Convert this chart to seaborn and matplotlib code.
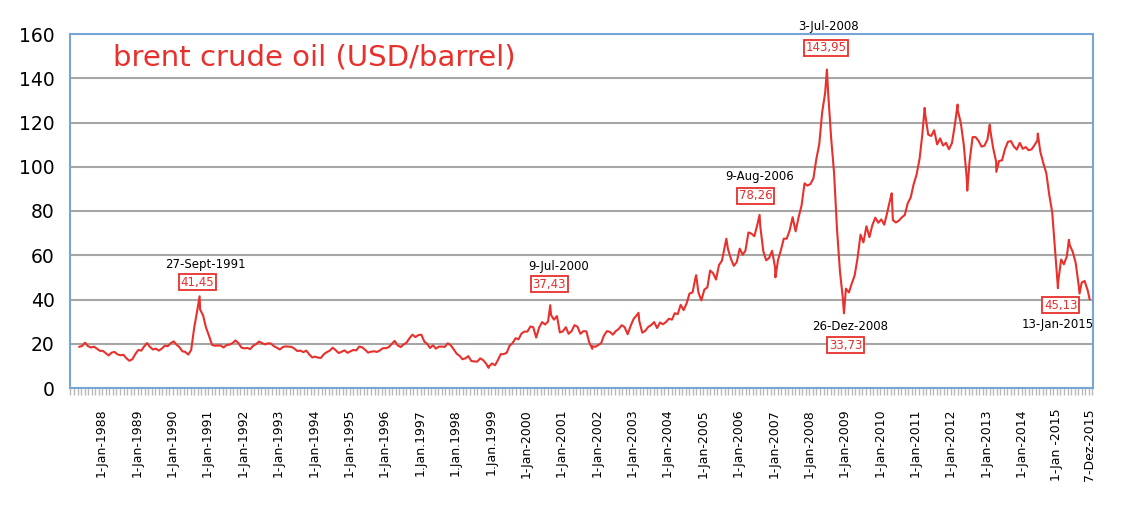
import pandas as pd
import numpy as np
import matplotlib
matplotlib.use("Agg")
import matplotlib.pyplot as plt
import matplotlib.dates as mdates
import seaborn as sns

# monthly brent prices (USD/barrel)
p1987 = [18.6, 19.0, 20.5, 18.9, 18.3, 18.7, 17.8, 16.8]  # May-Dec
p1988 = [16.8, 15.7, 14.7, 16.0, 16.3, 15.2, 14.8, 15.0, 13.4, 12.3, 13.0, 15.3]
p1989 = [17.2, 16.9, 18.7, 20.3, 18.6, 17.4, 17.8, 16.9, 17.8, 19.1, 18.9, 20.2]
p1990 = [21.1, 19.5, 18.5, 16.6, 16.3, 15.1, 17.2, 27.2, 34.9, 35.5, 32.8, 27.3]
p1991 = [23.6, 19.5, 19.1, 19.2, 19.2, 18.3, 19.4, 19.6, 20.3, 21.5, 20.3, 18.3]
p1992 = [17.9, 18.1, 17.6, 19.1, 19.8, 21.0, 20.3, 19.7, 20.2, 20.1, 18.9, 18.2]
p1993 = [17.4, 18.5, 18.8, 18.7, 18.6, 17.8, 16.7, 16.9, 16.2, 16.9, 15.2, 13.8]
p1994 = [14.2, 13.7, 13.6, 15.3, 16.2, 16.9, 18.2, 17.1, 15.8, 16.4, 17.0, 15.9]
p1995 = [16.6, 17.2, 17.0, 18.7, 18.4, 17.3, 16.0, 16.4, 16.6, 16.3, 17.0, 18.0]
p1996 = [18.0, 18.5, 19.9, 21.3, 19.3, 18.5, 19.6, 20.5, 22.5, 24.1, 23.0, 23.9]
p1997 = [24.1, 21.0, 20.0, 18.1, 19.3, 17.8, 18.7, 18.7, 18.6, 20.2, 19.3, 17.5]
p1998 = [15.5, 14.5, 13.0, 13.4, 14.4, 12.2, 12.0, 11.9, 13.4, 12.6, 11.0, 9.8]
p1999 = [11.1, 10.3, 12.5, 15.3, 15.3, 15.9, 19.1, 20.3, 22.5, 22.0, 24.6, 25.5]
p2000 = [25.5, 27.8, 27.5, 22.8, 27.3, 29.8, 28.7, 30.0, 33.0, 30.9, 32.5, 25.1]
p2001 = [25.6, 27.5, 24.5, 25.7, 28.4, 27.7, 24.5, 25.7, 25.6, 20.5, 18.9, 18.6]
p2002 = [19.4, 20.3, 23.7, 25.7, 25.4, 24.1, 25.7, 26.7, 28.4, 27.5, 24.3, 28.0]
p2003 = [31.2, 32.8, 30.3, 25.0, 25.8, 27.6, 28.4, 29.8, 27.1, 29.6, 28.8, 29.8]
p2004 = [31.3, 30.9, 33.8, 33.4, 37.6, 35.2, 38.2, 42.7, 43.2, 49.8, 43.1, 39.6]
p2005 = [44.5, 45.5, 53.1, 51.9, 49.0, 55.6, 57.5, 64.1, 62.9, 58.5, 55.2, 56.9]
p2006 = [63.0, 60.2, 62.1, 70.3, 69.8, 68.6, 73.7, 73.2, 61.9, 57.7, 58.8, 62.0]
p2007 = [54.5, 58.0, 62.1, 67.5, 67.5, 71.3, 77.2, 70.8, 77.2, 82.4, 92.5, 91.5]
p2008 = [92.2, 94.8, 103.3, 110.2, 124.6, 133.5, 133.9, 113.4, 97.1, 71.9, 52.5, 40.4]
p2009 = [44.9, 43.2, 47.0, 50.8, 58.6, 69.3, 65.8, 73.1, 68.2, 73.6, 77.0, 74.7]
p2010 = [76.2, 73.8, 78.8, 84.8, 75.9, 74.8, 75.6, 77.1, 78.2, 83.5, 86.1, 92.0]
p2011 = [96.5, 103.7, 114.6, 123.3, 114.5, 113.9, 116.5, 110.1, 112.8, 109.6, 110.8, 107.9]
p2012 = [110.7, 119.3, 125.5, 119.8, 110.3, 95.2, 102.6, 113.4, 113.4, 111.7, 109.1, 109.5]
p2013 = [112.3, 116.1, 108.5, 102.3, 102.6, 102.9, 107.9, 111.3, 111.6, 109.1, 107.8, 110.8]
p2014 = [108.1, 108.9, 107.5, 107.8, 109.7, 111.9, 106.8, 101.6, 97.1, 87.4, 79.4, 62.3]
p2015 = [47.8, 58.1, 55.9, 59.5, 64.6, 61.5, 56.6, 46.5, 47.6, 48.4, 44.3]  # Jan-Nov

# daily highs / lows visible on the chart
spike_dates = ["1990-10-10", "1998-12-10", "2000-09-07", "2001-11-15", "2003-03-07",
               "2004-10-22", "2005-08-30", "2006-08-08", "2007-01-18", "2008-07-03",
               "2008-12-26", "2010-05-03", "2011-04-08", "2012-03-13", "2012-06-21",
               "2013-02-08", "2013-04-17", "2014-06-19", "2015-01-13", "2015-05-06",
               "2015-08-24", "2015-12-07"]
spike_values = [41.45, 9.1, 37.43, 17.7, 34.0,
                51.0, 67.5, 78.26, 50.0, 143.95,
                33.73, 88.0, 126.6, 128.1, 89.2,
                119.0, 97.7, 115.0, 45.13, 67.0,
                42.7, 40.0]

# annotations
ann_dates = ["27-Sept-1991", "9-Jul-2000", "9-Aug-2006", "3-Jul-2008", "26-Dez-2008", "13-Jan-2015"]
ann_values = ["41,45", "37,43", "78,26", "143,95", "33,73", "45,13"]

tick_dates = [f"{y}-01-01" for y in range(1988, 2016)] + ["2015-12-07"]
tick_labels = ([f"1-Jan-{y}" for y in range(1988, 1997)]
               + ["1.Jan.1997", "1.Jan.1998", "1.Jan.1999"]
               + [f"1-Jan-{y}" for y in range(2000, 2015)]
               + ["1-Jan -2015", "7-Dez-2015"])

monthly = (p1987 + p1988 + p1989 + p1990 + p1991 + p1992 + p1993 + p1994 + p1995
           + p1996 + p1997 + p1998 + p1999 + p2000 + p2001 + p2002 + p2003 + p2004
           + p2005 + p2006 + p2007 + p2008 + p2009 + p2010 + p2011 + p2012 + p2013
           + p2014 + p2015)
month_dates = pd.date_range("1987-05-01", "2015-11-01", freq="MS") + pd.Timedelta(days=14)

df = pd.concat([
    pd.DataFrame({"date": month_dates, "price": monthly}),
    pd.DataFrame({"date": pd.to_datetime(spike_dates), "price": spike_values}),
]).sort_values("date").reset_index(drop=True)

sns.set_style("white")
plt.rcParams["font.family"] = ["DejaVu Sans"]

red = "#e8302c"
blue = "#78a5d8"

fig = plt.figure(figsize=(11.26, 5.07), dpi=100)
ax = fig.add_axes([70 / 1126, 1 - 388 / 507, (1093 - 70) / 1126, (388 - 34) / 507])

sns.lineplot(data=df, x="date", y="price", ax=ax, color=red, linewidth=1.5,
             estimator=None, sort=True)

xmin, xmax = pd.Timestamp("1987-02-10"), pd.Timestamp("2016-01-10")
ax.set_ylim(0, 160)
ax.set_yticks(range(0, 161, 20))
ax.set_xlim(xmin, xmax)
ax.grid(axis="y", color="#a6a6a6", linewidth=1.5)
ax.set_axisbelow(True)
for s in ax.spines.values():
    s.set_color(blue)
    s.set_linewidth(1.5)

ax.set_xticks(pd.to_datetime(tick_dates))
ax.set_xticklabels(tick_labels, rotation=90, fontsize=9, color="black")
minor = np.arange(mdates.date2num(xmin) + 5, mdates.date2num(xmax), 36.5)
ax.xaxis.set_minor_locator(matplotlib.ticker.FixedLocator(minor))
ax.tick_params(axis="x", which="minor", length=5, color="#b8b8b8", width=1,
               direction="out", bottom=True)
ax.tick_params(axis="x", which="major", length=0, pad=15)
ax.tick_params(axis="y", length=0, pad=11, labelsize=13.5, labelcolor="black")
ax.set_xlabel("")
ax.set_ylabel("")

ax.text(0.042, 0.935, "brent crude oil (USD/barrel)", transform=ax.transAxes,
        color=red, fontsize=21, va="center", ha="left")

# label placements (date text pos, value box pos)
ann_pos = [
    (("1990-12-10", 56.0), ("1990-09-20", 47.9)),
    (("2000-12-01", 54.7), ("2000-08-28", 47.0)),
    (("2006-08-10", 95.4), ("2006-07-01", 86.8)),
    (("2008-07-15", 163.2), ("2008-06-25", 153.7)),
    (("2009-03-01", 27.6), ("2009-01-10", 19.4)),
    (("2015-01-12", 28.9), ("2015-02-10", 37.5)),
]
for label, value, (tp, bp) in zip(ann_dates, ann_values, ann_pos):
    ax.text(pd.Timestamp(tp[0]), tp[1], label, fontsize=8.5, color="black",
            ha="center", va="center", clip_on=False)
    ax.text(pd.Timestamp(bp[0]), bp[1], value, fontsize=8.5, color=red,
            ha="center", va="center", clip_on=False,
            bbox=dict(boxstyle="square,pad=0.15", facecolor="white",
                      edgecolor=red, linewidth=1.3))

fig.savefig("out.png", dpi=100)
